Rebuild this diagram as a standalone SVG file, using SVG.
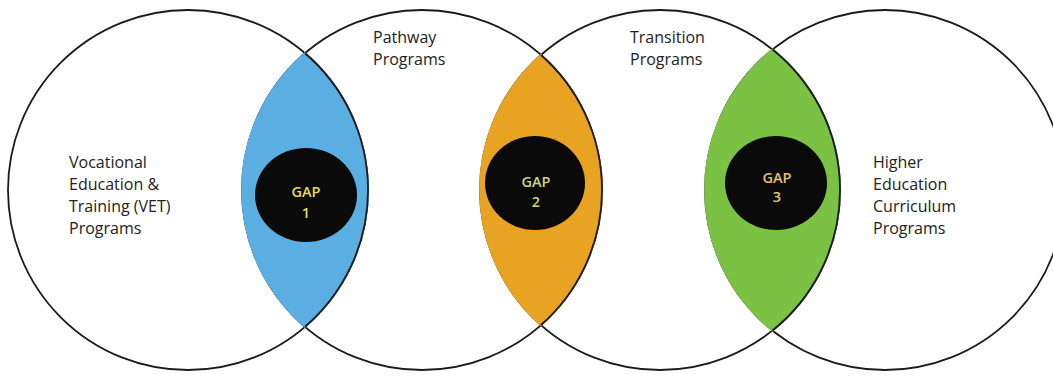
<svg xmlns="http://www.w3.org/2000/svg" width="1053" height="376" viewBox="0 0 1053 376">
  <style>
    .ring { fill: none; stroke: #1a1a1a; stroke-width: 1.8; }
    .lbl { font-family: "Open Sans", "Noto Sans", "Liberation Sans", sans-serif; font-size: 16px; fill: #222222; }
    .gap { fill: #0a0a0a; }
    .gt { font-family: "Open Sans", "Noto Sans", "Liberation Sans", sans-serif; font-size: 14.5px; font-weight: 600; text-anchor: middle; }
  </style>
  <rect width="1053" height="376" fill="#ffffff"/>
  <g id="vet">
    <circle class="ring" cx="188" cy="190" r="180"/>
    <text class="lbl" x="69" y="168">Vocational</text>
    <text class="lbl" x="69" y="190">Education &amp;</text>
    <text class="lbl" x="69" y="212">Training (VET)</text>
    <text class="lbl" x="69" y="234">Programs</text>
  </g>
  <g id="pathway">
    <circle class="ring" cx="422" cy="190" r="180"/>
    <text class="lbl" x="373" y="43">Pathway</text>
    <text class="lbl" x="373" y="65">Programs</text>
  </g>
  <g id="transition">
    <circle class="ring" cx="660" cy="190" r="180"/>
    <text class="lbl" x="630" y="43">Transition</text>
    <text class="lbl" x="630" y="65">Programs</text>
  </g>
  <g id="higher">
    <circle class="ring" cx="885" cy="190" r="180"/>
    <text class="lbl" x="873" y="168">Higher</text>
    <text class="lbl" x="873" y="190">Education</text>
    <text class="lbl" x="873" y="212">Curriculum</text>
    <text class="lbl" x="873" y="234">Programs</text>
  </g>
  <g id="lenses">
    <path id="lens1" d="M305 53.21 A180 180 0 0 1 305 326.79 A180 180 0 0 1 305 53.21 Z" fill="#5aaee2" stroke="#5aaee2" stroke-width="1.8"/>
    <path id="lens2" d="M541 54.95 A180 180 0 0 1 541 325.05 A180 180 0 0 1 541 54.95 Z" fill="#e8a322" stroke="#e8a322" stroke-width="1.8"/>
    <path id="lens3" d="M772.5 49.49 A180 180 0 0 1 772.5 330.51 A180 180 0 0 1 772.5 49.49 Z" fill="#7bc143" stroke="#7bc143" stroke-width="1.8"/>
  </g>
  <g id="lens-edges">
    <path class="ring" d="M305 53.21 A180 180 0 0 1 305 326.79"/>
    <path class="ring" d="M541 54.95 A180 180 0 0 1 541 325.05"/>
    <path class="ring" d="M772.5 49.49 A180 180 0 0 1 772.5 330.51"/>
  </g>
  <g id="gap1">
    <ellipse class="gap" cx="306" cy="195" rx="51" ry="47"/>
    <text class="gt" x="306" y="197" fill="#e2df4e">GAP</text>
    <text class="gt" x="306" y="218" fill="#e2df4e">1</text>
  </g>
  <g id="gap2">
    <ellipse class="gap" cx="535" cy="183" rx="50" ry="47"/>
    <text class="gt" x="536" y="187" fill="#cbd38a">GAP</text>
    <text class="gt" x="536" y="207" fill="#cbd38a">2</text>
  </g>
  <g id="gap3">
    <ellipse class="gap" cx="776" cy="183" rx="51" ry="47"/>
    <text class="gt" x="777" y="183" fill="#e3c272">GAP</text>
    <text class="gt" x="777" y="202" fill="#e3c272">3</text>
  </g>
</svg>
